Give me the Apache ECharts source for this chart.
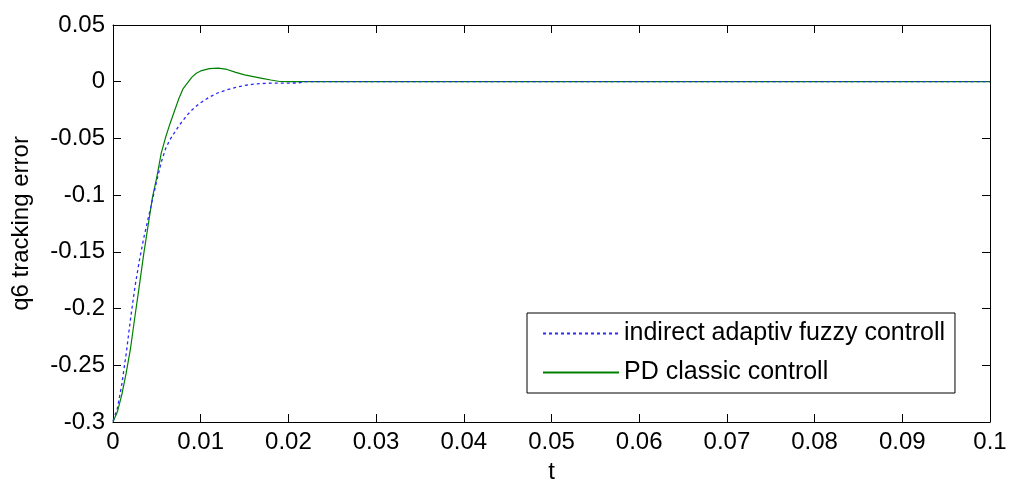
<!DOCTYPE html>
<html>
<head>
<meta charset="utf-8">
<script src="https://cdn.jsdelivr.net/npm/echarts@6/dist/echarts.min.js"></script>
<style>
  html, body { margin: 0; padding: 0; background: #fff; }
  #chart { width: 1010px; height: 489px; }
</style>
</head>
<body>
<div id="chart"></div>
<script>
// Time samples (s)
const timeSamples = [0, 0.0005, 0.001, 0.0015, 0.002, 0.0025, 0.003, 0.0035, 0.004, 0.0045,
  0.005, 0.0055, 0.006, 0.0065, 0.007, 0.0075, 0.008, 0.0085, 0.009, 0.0095,
  0.010, 0.011, 0.012, 0.013, 0.014, 0.015, 0.016, 0.017, 0.018, 0.019,
  0.020, 0.021, 0.022, 0.023, 0.025, 0.03, 0.04, 0.05, 0.06, 0.07, 0.08, 0.09, 0.1];

// Tracking error of joint q6 under the indirect adaptive fuzzy controller
const fuzzyError = [-0.299, -0.288, -0.267, -0.240, -0.209, -0.181, -0.158, -0.138, -0.121, -0.104,
  -0.087, -0.071, -0.059, -0.051, -0.045, -0.039, -0.034, -0.029, -0.025, -0.0215,
  -0.0185, -0.0135, -0.0097, -0.0071, -0.0050, -0.0033, -0.0022, -0.0016, -0.0013, -0.0012,
  -0.0012, -0.0011, 0, 0, 0, 0, 0, 0, 0, 0, 0, 0, 0];

// Tracking error of joint q6 under the classic PD controller
const pdError = [-0.300, -0.291, -0.276, -0.257, -0.235, -0.207, -0.180, -0.152, -0.127, -0.102,
  -0.084, -0.063, -0.049, -0.037, -0.026, -0.015, -0.006, -0.001, 0.004, 0.0075,
  0.0095, 0.0115, 0.0119, 0.0108, 0.0082, 0.0060, 0.0045, 0.0030, 0.0015, 0.0002,
  0, 0, 0, 0, 0, 0, 0, 0, 0, 0, 0, 0, 0];

const xTickLabels = ['0', '0.01', '0.02', '0.03', '0.04', '0.05', '0.06', '0.07', '0.08', '0.09', '0.1'];
const yTickLabels = ['-0.3', '-0.25', '-0.2', '-0.15', '-0.1', '-0.05', '0', '0.05'];

const seriesNames = ['indirect adaptiv fuzzy controll', 'PD classic controll'];

const font = 'Liberation Sans, Arial, sans-serif';
const textBase = { color: '#000', fontFamily: font, fontSize: 24 };

const pairs = (vals) => timeSamples.map((t, i) => [t, vals[i]]);

const boxAxis = {
  axisLine: { show: true, onZero: false, lineStyle: { color: '#000', width: 1 } },
  axisTick: { show: true, inside: true, length: 8, lineStyle: { color: '#000', width: 1 } },
  splitLine: { show: false }
};

const chart = echarts.init(document.getElementById('chart'), null, { renderer: 'canvas' });

chart.setOption({
  animation: false,
  backgroundColor: '#fff',
  grid: { left: 113, right: 20, top: 25, bottom: 61, containLabel: false },
  legend: {
    orient: 'vertical',
    left: 527,
    top: 313,
    padding: [8, 10, 8, 15],
    itemGap: 14,
    itemWidth: 76,
    itemHeight: 24,
    backgroundColor: '#fff',
    borderColor: '#000',
    borderWidth: 1,
    borderRadius: 0,
    itemStyle: { opacity: 0 },
    textStyle: { color: '#000', fontFamily: font, fontSize: 25 },
    data: seriesNames
  },
  xAxis: [
    Object.assign({
      type: 'value', min: 0, max: 0.1, interval: 0.01, position: 'bottom',
      name: 't', nameLocation: 'middle', nameGap: 38,
      nameTextStyle: textBase,
      axisLabel: Object.assign({ margin: 8, formatter: (v) => xTickLabels[Math.round(v / 0.01)] }, textBase)
    }, boxAxis),
    Object.assign({
      type: 'value', min: 0, max: 0.1, interval: 0.01, position: 'top',
      axisLabel: { show: false }
    }, boxAxis)
  ],
  yAxis: [
    Object.assign({
      type: 'value', min: -0.3, max: 0.05, interval: 0.05, position: 'left',
      name: 'q6 tracking error', nameLocation: 'middle', nameGap: 80, nameRotate: 90,
      nameTextStyle: textBase,
      axisLabel: Object.assign({ margin: 8, formatter: (v) => yTickLabels[Math.round((v + 0.3) / 0.05)] }, textBase)
    }, boxAxis),
    Object.assign({
      type: 'value', min: -0.3, max: 0.05, interval: 0.05, position: 'right',
      axisLabel: { show: false }
    }, boxAxis)
  ],
  series: [
    {
      name: seriesNames[0], type: 'line', data: pairs(fuzzyError),
      symbol: 'none', symbolSize: 0, z: 3,
      lineStyle: { color: '#2a2aff', width: 1.3, type: [3, 3] },
      itemStyle: { color: '#2a2aff' }
    },
    {
      name: seriesNames[1], type: 'line', data: pairs(pdError),
      symbol: 'none', symbolSize: 0, z: 2,
      lineStyle: { color: '#008000', width: 1.2, type: 'solid' },
      itemStyle: { color: '#008000' }
    }
  ]
});
</script>
</body>
</html>
